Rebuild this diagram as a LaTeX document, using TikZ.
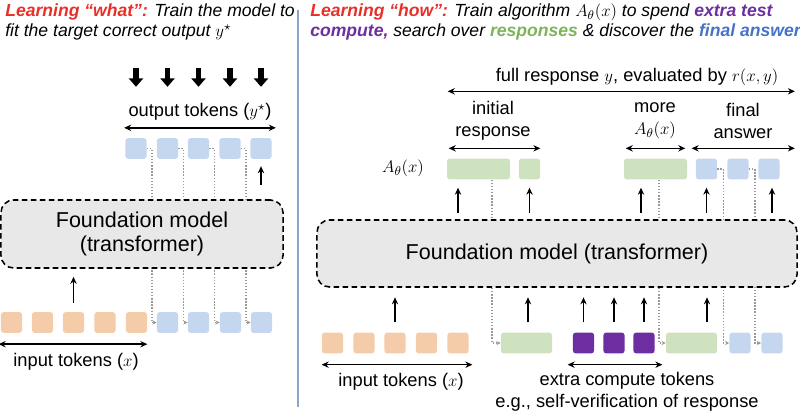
\documentclass[tikz,border=0pt]{standalone}
\usepackage{fontspec}
\setmainfont{Liberation Sans}
\usepackage{amsmath}
\usetikzlibrary{arrows.meta, positioning, calc}
\definecolor{tokorange}{RGB}{245,204,170}
\definecolor{tokblue}{RGB}{196,215,238}
\definecolor{tokgreen}{RGB}{207,226,192}
\definecolor{tokpurple}{RGB}{108,46,160}
\definecolor{boxgray}{RGB}{232,232,232}
\definecolor{titlered}{RGB}{233,48,40}
\definecolor{titlegreen}{RGB}{125,180,90}
\definecolor{titleblue}{RGB}{70,115,200}
\definecolor{divider}{RGB}{140,165,200}

\begin{document}
\begin{tikzpicture}[
  x=0.025cm, y=-0.025cm,
  tok/.style={inner sep=0pt, minimum height=0.52cm, minimum width=0.53cm, rounded corners=2pt},
  intok/.style={tok, fill=tokorange},
  outtok/.style={tok, fill=tokblue},
  resp/.style={tok, fill=tokgreen},
  xtra/.style={tok, fill=tokpurple},
  fm/.style={draw, fill=boxgray, line width=1.1pt, dash pattern=on 4pt off 2.4pt, rounded corners=9pt, font=\fontsize{15.3}{16.5}\selectfont, align=center},
  lbl/.style={font=\fontsize{13}{15.6}\selectfont, align=center, inner sep=0pt},
  span/.style={{Stealth[length=5pt,width=4.5pt]}-{Stealth[length=5pt,width=4.5pt]}, line width=1pt},
  up/.style={-{Stealth[length=5pt,width=4.5pt]}, line width=1pt},
  feed/.style={gray!80, line width=0.9pt, dash pattern=on 1pt off 1.2pt, -{Stealth[length=3pt,width=3pt]}},
  target/.style={line width=3.6pt, -{Triangle[length=6pt,width=10pt]}},
  ttl/.style={font=\fontsize{12.5}{15}\selectfont\itshape, anchor=base west, inner sep=0pt}
]
  \useasboundingbox (0,0) rectangle (800,419);

  % titles
  \node[ttl] (tl1) at (5,17) {\textcolor{titlered}{\bfseries Learning “what”:} Train the model to};
  \node[ttl] (tl2) at (5,37) {fit the target correct output $y^\star$};
  \node[ttl] (tr1) at (310,17) {\textcolor{titlered}{\bfseries Learning “how”:} Train algorithm $A_\theta(x)$ to spend \textcolor{tokpurple}{\bfseries extra test}};
  \node[ttl] (tr2) at (310,37) {\textcolor{tokpurple}{\bfseries compute,} search over \textcolor{titlegreen}{\bfseries responses} \& discover the \textcolor{titleblue}{\bfseries final answer}};

  \draw[divider, line width=1pt] (298,10) -- (298,407);

  % left: learning what
  \foreach \i/\x in {1/11.5,2/42.5,3/73.5,4/105,5/136.5}
    \node[intok] (in\i) at (\x,322.5) {};
  \foreach \i/\x in {1/136,2/167.5,3/198.5,4/230,5/261}
    \node[outtok] (out\i) at (\x,148.5) {};
  \foreach \i/\x in {2/167.5,3/198.5,4/230.5,5/261.5}
    \node[outtok] (fed\i) at (\x,322.5) {};

  \foreach \i/\j in {1/2,2/3,3/4,4/5}
    \draw[feed] (out\i.east) -- ++(5,0) |- (fed\j.west);

  \node[fm, minimum width=7.05cm, minimum height=1.7cm] (fmL) at (142,234) {Foundation model\\(transformer)};

  \foreach \i in {1,...,5}
    \draw[target] ($(out\i.north)+(0,-70)$) -- ++(0,19);
  \node[lbl] (outlbl) at (200,112) {output tokens ($y^\star$)};
  \draw[span] ($(out1.north west)+(-1,-10)$) -- ($(out5.north east)+(4,-10)$);
  \draw[up] ($(out5.south)+(0,26)$) -- ++(0,-19);

  \draw[up] ($(in3.north)+(0,-9)$) -- ++(0,-26);
  \draw[span] ($(in1.south west)+(-2,11)$) -- ($(in5.south east)+(0,11)$);
  \node[lbl] (inlbl) at (76,362) {input tokens ($x$)};

  % right: learning how
  \node[resp, minimum width=1.575cm] (init1) at (478.5,169) {};
  \node[resp] (init2) at (529.5,169) {};
  \node[resp, minimum width=1.575cm] (more) at (655.5,169) {};
  \foreach \i/\x in {1/706.5,2/738,3/769}
    \node[outtok] (ans\i) at (\x,169) {};
  \node[lbl] (alg) at (403,168) {$A_\theta(x)$};

  \foreach \i/\x in {1/332.5,2/364,3/395,4/426.5,5/458}
    \node[intok] (rin\i) at (\x,343) {};
  \node[resp, minimum width=1.275cm] (vinit) at (526.5,343) {};
  \foreach \i/\x in {1/583.5,2/614,3/644}
    \node[xtra] (xc\i) at (\x,343) {};
  \node[resp, minimum width=1.275cm] (vmore) at (691.5,343) {};
  \foreach \i/\x in {1/740,2/772}
    \node[outtok] (rans\i) at (\x,343) {};

  \draw[feed] ($(init1.south)+(13.5,0)$) |- (vinit.west);
  \draw[feed] ($(more.south)+(3.5,0)$) |- (vmore.west);
  \draw[feed] (ans1.east) -- ++(6,0) |- (rans1.west);
  \draw[feed] (ans2.east) -- ++(6,0) |- (rans2.west);

  \node[fm, minimum width=12cm, minimum height=1.675cm] (fmR) at (557,253.5) {Foundation model (transformer)};

  \foreach \n/\dx in {init1/-20.5, init2/0, more/-14.5, ans1/0, ans3/3}
    \draw[up] ($(\n.south)+(\dx,33)$) -- ++(0,-25);
  \foreach \n/\dx in {rin3/0, vinit/1.5, xc1/0, xc2/0, xc3/0, vmore/15.5}
    \draw[up] ($(\n.north)+(\dx,-10)$) -- ++(0,-25);

  \draw[span] ($(init1.north west)+(1,-67)$) -- ($(ans3.north east)+(15,-67)$);
  \node[lbl] (fulllbl) at (637,77) {full response $y$, evaluated by $r(x,y)$};
  \draw[span] ($(init1.north west)+(2,-10)$) -- ($(init2.north east)+(0,-10)$);
  \node[lbl] (initlbl) at (493,121) {initial\\response};
  \draw[span] ($(more.north west)+(2,-10)$) -- ($(more.north east)+(-2,-10)$);
  \node[lbl] (morelbl) at (655,121) {more\\$A_\theta(x)$};
  \draw[span] ($(ans1.north west)+(-4,-10)$) -- ($(ans3.north east)+(15,-10)$);
  \node[lbl] (anslbl) at (743,121) {final\\answer};

  \draw[span] ($(rin1.south west)+(0,11)$) -- ($(rin5.south east)+(3.5,11)$);
  \node[lbl] (rinlbl) at (401,382) {input tokens ($x$)};
  \draw[span] ($(xc1.south west)+(-5,11)$) -- ($(xc3.south east)+(7.5,11)$);
  \node[lbl] (xclbl) at (627,392) {extra compute tokens\\e.g., self-verification of response};
\end{tikzpicture}
\end{document}
